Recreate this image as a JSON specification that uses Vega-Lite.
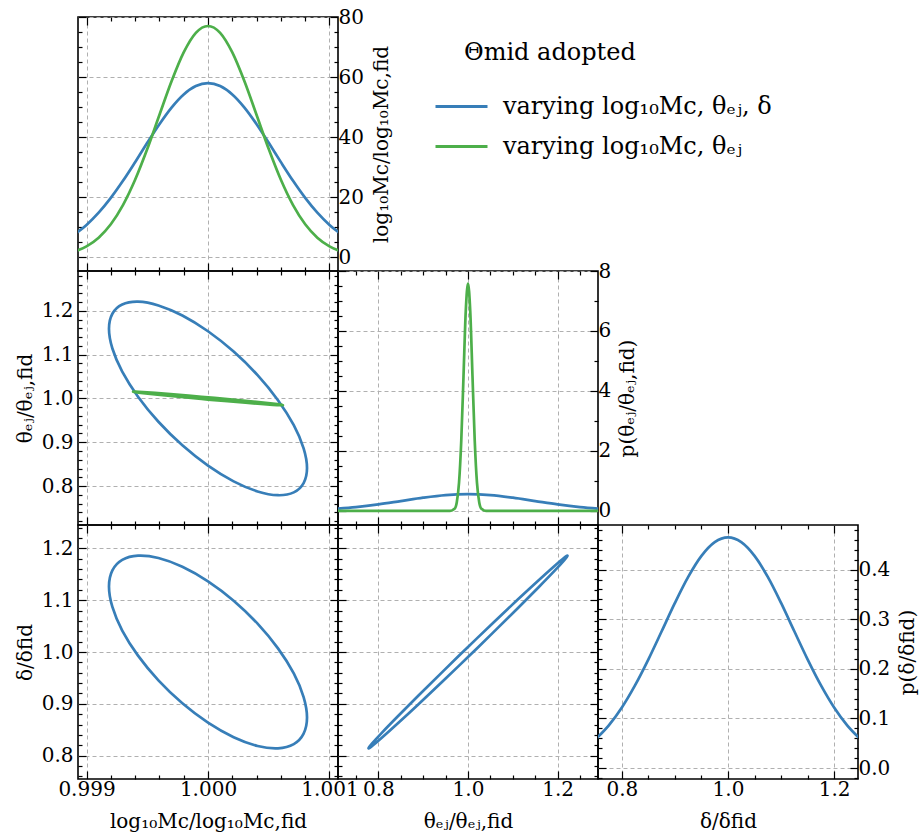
{
"$schema": "https://vega.github.io/schema/vega-lite/v6.json",
"padding": {"left": 14, "top": 6, "right": 0, "bottom": 0},
"datasets": {
"mc1": [
{"x":0.9989,"a":7.62,"b":1.96},{"x":0.999,"a":10.84,"b":3.71},{"x":0.9991,"a":14.91,"b":6.60},{"x":0.9992,"a":19.83,"b":11.05},{"x":0.9993,"a":25.50,"b":17.42},{"x":0.9994,"a":31.71,"b":25.84},{"x":0.9995,"a":38.14,"b":36.07},{"x":0.9996,"a":44.35,"b":47.39},{"x":0.9997,"a":49.88,"b":58.61},{"x":0.9998,"a":54.24,"b":68.20},{"x":0.9999,"a":57.04,"b":74.70},{"x":1.0,"a":58.0,"b":77.0},{"x":1.0001,"a":57.04,"b":74.70},{"x":1.0002,"a":54.24,"b":68.20},{"x":1.0003,"a":49.88,"b":58.61},{"x":1.0004,"a":44.35,"b":47.39},{"x":1.0005,"a":38.14,"b":36.07},{"x":1.0006,"a":31.71,"b":25.84},{"x":1.0007,"a":25.50,"b":17.42},{"x":1.0008,"a":19.83,"b":11.05},{"x":1.0009,"a":14.91,"b":6.60},{"x":1.001,"a":10.84,"b":3.71},{"x":1.0011,"a":7.62,"b":1.96}
],
"mt": [
{"i":0,"s":"a","x":1.000815,"y":0.8409},{"i":1,"s":"a","x":1.000787,"y":0.8860},{"i":2,"s":"a","x":1.000706,"y":0.9389},{"i":3,"s":"a","x":1.000576,"y":0.9960},{"i":4,"s":"a","x":1.000408,"y":1.0532},{"i":5,"s":"a","x":1.000211,"y":1.1070},{"i":6,"s":"a","x":1.0,"y":1.1534},{"i":7,"s":"a","x":0.999789,"y":1.1894},{"i":8,"s":"a","x":0.999592,"y":1.2124},{"i":9,"s":"a","x":0.999424,"y":1.2210},{"i":10,"s":"a","x":0.999294,"y":1.2145},{"i":11,"s":"a","x":0.999213,"y":1.1934},{"i":12,"s":"a","x":0.999185,"y":1.1591},{"i":13,"s":"a","x":0.999213,"y":1.1140},{"i":14,"s":"a","x":0.999294,"y":1.0611},{"i":15,"s":"a","x":0.999424,"y":1.0040},{"i":16,"s":"a","x":0.999592,"y":0.9468},{"i":17,"s":"a","x":0.999789,"y":0.8930},{"i":18,"s":"a","x":1.0,"y":0.8466},{"i":19,"s":"a","x":1.000211,"y":0.8106},{"i":20,"s":"a","x":1.000408,"y":0.7876},{"i":21,"s":"a","x":1.000576,"y":0.7790},{"i":22,"s":"a","x":1.000706,"y":0.7855},{"i":23,"s":"a","x":1.000787,"y":0.8066},
{"i":0,"s":"b","x":1.000617,"y":0.9847},{"i":1,"s":"b","x":1.000596,"y":0.9859},{"i":2,"s":"b","x":1.000534,"y":0.9880},{"i":3,"s":"b","x":1.000436,"y":0.9909},{"i":4,"s":"b","x":1.000309,"y":0.9945},{"i":5,"s":"b","x":1.000160,"y":0.9984},{"i":6,"s":"b","x":1.0,"y":1.0025},{"i":7,"s":"b","x":0.999840,"y":1.0064},{"i":8,"s":"b","x":0.999691,"y":1.0098},{"i":9,"s":"b","x":0.999564,"y":1.0126},{"i":10,"s":"b","x":0.999466,"y":1.0145},{"i":11,"s":"b","x":0.999404,"y":1.0154},{"i":12,"s":"b","x":0.999383,"y":1.0153},{"i":13,"s":"b","x":0.999404,"y":1.0141},{"i":14,"s":"b","x":0.999466,"y":1.0120},{"i":15,"s":"b","x":0.999564,"y":1.0091},{"i":16,"s":"b","x":0.999691,"y":1.0055},{"i":17,"s":"b","x":0.999840,"y":1.0016},{"i":18,"s":"b","x":1.0,"y":0.9975},{"i":19,"s":"b","x":1.000160,"y":0.9936},{"i":20,"s":"b","x":1.000309,"y":0.9902},{"i":21,"s":"b","x":1.000436,"y":0.9874},{"i":22,"s":"b","x":1.000534,"y":0.9855},{"i":23,"s":"b","x":1.000596,"y":0.9846}
],
"tt": [
{"s":"a","x":0.70,"y":0.066},{"s":"a","x":0.75,"y":0.127},{"s":"a","x":0.80,"y":0.216},{"s":"a","x":0.85,"y":0.328},{"s":"a","x":0.90,"y":0.441},{"s":"a","x":0.95,"y":0.528},{"s":"a","x":1.00,"y":0.56},{"s":"a","x":1.05,"y":0.528},{"s":"a","x":1.10,"y":0.441},{"s":"a","x":1.15,"y":0.328},{"s":"a","x":1.20,"y":0.216},{"s":"a","x":1.25,"y":0.127},{"s":"a","x":1.30,"y":0.066},
{"s":"b","x":0.70,"y":0},{"s":"b","x":0.90,"y":0},{"s":"b","x":0.95,"y":0},{"s":"b","x":0.96,"y":0},{"s":"b","x":0.97,"y":0.07},{"s":"b","x":0.975,"y":0.29},{"s":"b","x":0.98,"y":0.94},{"s":"b","x":0.985,"y":2.35},{"s":"b","x":0.99,"y":4.50},{"s":"b","x":0.995,"y":6.66},{"s":"b","x":1.0,"y":7.58},{"s":"b","x":1.005,"y":6.66},{"s":"b","x":1.01,"y":4.50},{"s":"b","x":1.015,"y":2.35},{"s":"b","x":1.02,"y":0.94},{"s":"b","x":1.025,"y":0.29},{"s":"b","x":1.03,"y":0.07},{"s":"b","x":1.04,"y":0},{"s":"b","x":1.05,"y":0},{"s":"b","x":1.10,"y":0},{"s":"b","x":1.30,"y":0}
],
"md": [
{"i":0,"s":"a","x":1.000815,"y":0.8735},{"i":1,"s":"a","x":1.000787,"y":0.9131},{"i":2,"s":"a","x":1.000706,"y":0.9587},{"i":3,"s":"a","x":1.000576,"y":1.0070},{"i":4,"s":"a","x":1.000408,"y":1.0547},{"i":5,"s":"a","x":1.000211,"y":1.0990},{"i":6,"s":"a","x":1.0,"y":1.1363},{"i":7,"s":"a","x":0.999789,"y":1.1644},{"i":8,"s":"a","x":0.999592,"y":1.1813},{"i":9,"s":"a","x":0.999424,"y":1.1858},{"i":10,"s":"a","x":0.999294,"y":1.1777},{"i":11,"s":"a","x":0.999213,"y":1.1575},{"i":12,"s":"a","x":0.999185,"y":1.1265},{"i":13,"s":"a","x":0.999213,"y":1.0869},{"i":14,"s":"a","x":0.999294,"y":1.0413},{"i":15,"s":"a","x":0.999424,"y":0.9930},{"i":16,"s":"a","x":0.999592,"y":0.9453},{"i":17,"s":"a","x":0.999789,"y":0.9010},{"i":18,"s":"a","x":1.0,"y":0.8637},{"i":19,"s":"a","x":1.000211,"y":0.8356},{"i":20,"s":"a","x":1.000408,"y":0.8187},{"i":21,"s":"a","x":1.000576,"y":0.8142},{"i":22,"s":"a","x":1.000706,"y":0.8223},{"i":23,"s":"a","x":1.000787,"y":0.8425}
],
"td": [
{"i":0,"s":"a","x":1.222,"y":1.1857},{"i":1,"s":"a","x":1.2144,"y":1.1819},{"i":2,"s":"a","x":1.1923,"y":1.1656},{"i":3,"s":"a","x":1.1570,"y":1.1381},{"i":4,"s":"a","x":1.1110,"y":1.1013},{"i":5,"s":"a","x":1.0575,"y":1.0574},{"i":6,"s":"a","x":1.0,"y":1.0097},{"i":7,"s":"a","x":0.9425,"y":0.9612},{"i":8,"s":"a","x":0.8890,"y":0.9155},{"i":9,"s":"a","x":0.8430,"y":0.8755},{"i":10,"s":"a","x":0.8077,"y":0.8440},{"i":11,"s":"a","x":0.7856,"y":0.8231},{"i":12,"s":"a","x":0.778,"y":0.8143},{"i":13,"s":"a","x":0.7856,"y":0.8181},{"i":14,"s":"a","x":0.8077,"y":0.8344},{"i":15,"s":"a","x":0.8430,"y":0.8619},{"i":16,"s":"a","x":0.8890,"y":0.8987},{"i":17,"s":"a","x":0.9425,"y":0.9426},{"i":18,"s":"a","x":1.0,"y":0.9903},{"i":19,"s":"a","x":1.0575,"y":1.0388},{"i":20,"s":"a","x":1.1110,"y":1.0845},{"i":21,"s":"a","x":1.1570,"y":1.1245},{"i":22,"s":"a","x":1.1923,"y":1.1560},{"i":23,"s":"a","x":1.2144,"y":1.1769}
],
"dd": [
{"s":"a","x":0.75,"y":0.0576},{"s":"a","x":0.775,"y":0.0856},{"s":"a","x":0.80,"y":0.1221},{"s":"a","x":0.825,"y":0.1671},{"s":"a","x":0.85,"y":0.2192},{"s":"a","x":0.875,"y":0.2758},{"s":"a","x":0.90,"y":0.3329},{"s":"a","x":0.925,"y":0.3853},{"s":"a","x":0.95,"y":0.4277},{"s":"a","x":0.975,"y":0.4554},{"s":"a","x":1.0,"y":0.465},{"s":"a","x":1.025,"y":0.4554},{"s":"a","x":1.05,"y":0.4277},{"s":"a","x":1.075,"y":0.3853},{"s":"a","x":1.10,"y":0.3329},{"s":"a","x":1.125,"y":0.2758},{"s":"a","x":1.15,"y":0.2192},{"s":"a","x":1.175,"y":0.1671},{"s":"a","x":1.20,"y":0.1221},{"s":"a","x":1.225,"y":0.0856},{"s":"a","x":1.25,"y":0.0576}
],
"empty": [{"x": 0}]
},
"spacing": 0,
"bounds": "flush",
"columns": 3,
"concat": [
{"width": 260, "height": 254, "data": {"name": "mc1"}, "transform": [{"fold": ["a", "b"], "as": ["s", "y"]}],
 "resolve": {"axis": {"x": "independent", "y": "independent"}},
 "layer": [
  {"mark": {"type": "line", "strokeWidth": 2.7, "interpolate": "monotone", "clip": true},
   "encoding": {
    "x": {"field": "x", "type": "quantitative", "scale": {"domain": [0.99893, 1.00107], "nice": false, "zero": false},
      "axis": {"orient": "bottom", "values": [0.999,0.9992,0.9994,0.9996,0.9998,1,1.0002,1.0004,1.0006,1.0008,1.001], "labels": false, "title": null,
        "tickSize": {"condition": {"test": "indexof([0.999,1,1.001],datum.value)>=0", "value": -8}, "value": -4},
        "gridOpacity": {"condition": {"test": "indexof([0.999,1,1.001],datum.value)>=0", "value": 1}, "value": 0}}},
    "y": {"field": "y", "type": "quantitative", "scale": {"domain": [-4.5, 80], "nice": false, "zero": false},
      "axis": {"orient": "right", "values": [0,5,10,15,20,25,30,35,40,45,50,55,60,65,70,75,80], "format": "d", "labelExpr": "datum.value%20==0?datum.label:''", "labelPadding": 8,
        "title": "log₁₀Mc/log₁₀Mc,fid", "titleAngle": 270, "titleBaseline": "top", "titlePadding": 8,
        "tickSize": {"condition": {"test": "datum.value%20==0", "value": -8}, "value": -4},
        "gridOpacity": {"condition": {"test": "datum.value%20==0", "value": 1}, "value": 0}}},
    "color": {"field": "s", "type": "nominal", "title": "Θmid adopted", "scale": {"domain": ["a", "b"], "range": ["#377eb8", "#4daf4a"]},
      "legend": {"labelExpr": "datum.value=='a'?'varying log₁₀Mc, θₑⱼ, δ':'varying log₁₀Mc, θₑⱼ'"}}
   }},
  {"mark": {"type": "line", "strokeOpacity": 0},
   "encoding": {
    "x": {"field": "x", "type": "quantitative", "scale": {"domain": [0.99893, 1.00107], "nice": false, "zero": false},
      "axis": {"orient": "top", "values": [0.999,0.9992,0.9994,0.9996,0.9998,1,1.0002,1.0004,1.0006,1.0008,1.001], "labels": false, "title": null, "grid": false,
        "tickSize": {"condition": {"test": "indexof([0.999,1,1.001],datum.value)>=0", "value": -8}, "value": -4}}},
    "y": {"field": "y", "type": "quantitative", "scale": {"domain": [-4.5, 80], "nice": false, "zero": false},
      "axis": {"orient": "left", "values": [0,5,10,15,20,25,30,35,40,45,50,55,60,65,70,75,80], "labels": false, "title": null, "grid": false,
        "tickSize": {"condition": {"test": "datum.value%20==0", "value": -8}, "value": -4}}}
   }}
 ]},
{"width": 260, "height": 254, "view": {"stroke": null}, "data": {"name": "empty"}, "mark": {"type": "point", "opacity": 0}, "encoding": {}},
{"width": 260, "height": 254, "view": {"stroke": null}, "data": {"name": "empty"}, "mark": {"type": "point", "opacity": 0}, "encoding": {}},
{"width": 260, "height": 254, "data": {"name": "mt"},
 "resolve": {"axis": {"x": "independent", "y": "independent"}},
 "layer": [
  {"mark": {"type": "line", "strokeWidth": 2.7, "interpolate": "cardinal-closed", "clip": true},
   "encoding": {
    "x": {"field": "x", "type": "quantitative", "scale": {"domain": [0.99893, 1.00107], "nice": false, "zero": false},
      "axis": {"orient": "bottom", "values": [0.999,0.9992,0.9994,0.9996,0.9998,1,1.0002,1.0004,1.0006,1.0008,1.001], "labels": false, "title": null,
        "tickSize": {"condition": {"test": "indexof([0.999,1,1.001],datum.value)>=0", "value": -8}, "value": -4},
        "gridOpacity": {"condition": {"test": "indexof([0.999,1,1.001],datum.value)>=0", "value": 1}, "value": 0}}},
    "y": {"field": "y", "type": "quantitative", "scale": {"domain": [0.711, 1.291], "nice": false, "zero": false},
      "axis": {"orient": "left", "values": [0.72,0.74,0.76,0.78,0.8,0.82,0.84,0.86,0.88,0.9,0.92,0.94,0.96,0.98,1,1.02,1.04,1.06,1.08,1.1,1.12,1.14,1.16,1.18,1.2,1.22,1.24,1.26,1.28], "format": ".1f",
        "labelExpr": "indexof([0.8,0.9,1,1.1,1.2],datum.value)>=0?datum.label:''", "labelPadding": 13,
        "title": "θₑⱼ/θₑⱼ,fid", "titlePadding": 6,
        "tickSize": {"condition": {"test": "indexof([0.8,0.9,1,1.1,1.2],datum.value)>=0", "value": -8}, "value": -4},
        "gridOpacity": {"condition": {"test": "indexof([0.8,0.9,1,1.1,1.2],datum.value)>=0", "value": 1}, "value": 0}}},
    "order": {"field": "i", "type": "quantitative"},
    "color": {"field": "s", "type": "nominal", "title": "Θmid adopted", "scale": {"domain": ["a", "b"], "range": ["#377eb8", "#4daf4a"]},
      "legend": {"labelExpr": "datum.value=='a'?'varying log₁₀Mc, θₑⱼ, δ':'varying log₁₀Mc, θₑⱼ'"}}
   }},
  {"mark": {"type": "line", "strokeOpacity": 0},
   "encoding": {
    "x": {"field": "x", "type": "quantitative", "scale": {"domain": [0.99893, 1.00107], "nice": false, "zero": false},
      "axis": {"orient": "top", "values": [0.999,0.9992,0.9994,0.9996,0.9998,1,1.0002,1.0004,1.0006,1.0008,1.001], "labels": false, "title": null, "grid": false,
        "tickSize": {"condition": {"test": "indexof([0.999,1,1.001],datum.value)>=0", "value": -8}, "value": -4}}},
    "y": {"field": "y", "type": "quantitative", "scale": {"domain": [0.711, 1.291], "nice": false, "zero": false},
      "axis": {"orient": "right", "values": [0.72,0.74,0.76,0.78,0.8,0.82,0.84,0.86,0.88,0.9,0.92,0.94,0.96,0.98,1,1.02,1.04,1.06,1.08,1.1,1.12,1.14,1.16,1.18,1.2,1.22,1.24,1.26,1.28], "labels": false, "title": null, "grid": false,
        "tickSize": {"condition": {"test": "indexof([0.8,0.9,1,1.1,1.2],datum.value)>=0", "value": -8}, "value": -4}}}
   }}
 ]},
{"width": 260, "height": 254, "data": {"name": "tt"},
 "resolve": {"axis": {"x": "independent", "y": "independent"}},
 "layer": [
  {"mark": {"type": "line", "strokeWidth": 2.7, "interpolate": "monotone", "clip": true},
   "encoding": {
    "x": {"field": "x", "type": "quantitative", "scale": {"domain": [0.71, 1.29], "nice": false, "zero": false},
      "axis": {"orient": "bottom", "values": [0.75,0.8,0.85,0.9,0.95,1,1.05,1.1,1.15,1.2,1.25], "labels": false, "title": null,
        "tickSize": {"condition": {"test": "indexof([0.8,1,1.2],datum.value)>=0", "value": -8}, "value": -4},
        "gridOpacity": {"condition": {"test": "indexof([0.8,1,1.2],datum.value)>=0", "value": 1}, "value": 0}}},
    "y": {"field": "y", "type": "quantitative", "scale": {"domain": [-0.47, 8.0], "nice": false, "zero": false},
      "axis": {"orient": "right", "values": [0,0.5,1,1.5,2,2.5,3,3.5,4,4.5,5,5.5,6,6.5,7,7.5,8], "format": "d", "labelExpr": "datum.value%2==0?datum.label:''", "labelPadding": 8,
        "title": "p(θₑⱼ/θₑⱼ,fid)", "titleAngle": 270, "titleBaseline": "top", "titlePadding": 7,
        "tickSize": {"condition": {"test": "datum.value%2==0", "value": -8}, "value": -4},
        "gridOpacity": {"condition": {"test": "datum.value%2==0", "value": 1}, "value": 0}}},
    "color": {"field": "s", "type": "nominal", "title": "Θmid adopted", "scale": {"domain": ["a", "b"], "range": ["#377eb8", "#4daf4a"]},
      "legend": {"labelExpr": "datum.value=='a'?'varying log₁₀Mc, θₑⱼ, δ':'varying log₁₀Mc, θₑⱼ'"}}
   }},
  {"mark": {"type": "line", "strokeOpacity": 0},
   "encoding": {
    "x": {"field": "x", "type": "quantitative", "scale": {"domain": [0.71, 1.29], "nice": false, "zero": false},
      "axis": {"orient": "top", "values": [0.75,0.8,0.85,0.9,0.95,1,1.05,1.1,1.15,1.2,1.25], "labels": false, "title": null, "grid": false,
        "tickSize": {"condition": {"test": "indexof([0.8,1,1.2],datum.value)>=0", "value": -8}, "value": -4}}},
    "y": {"field": "y", "type": "quantitative", "scale": {"domain": [-0.47, 8.0], "nice": false, "zero": false},
      "axis": {"orient": "left", "values": [0,0.5,1,1.5,2,2.5,3,3.5,4,4.5,5,5.5,6,6.5,7,7.5,8], "labels": false, "title": null, "grid": false,
        "tickSize": {"condition": {"test": "datum.value%2==0", "value": -8}, "value": -4}}}
   }}
 ]},
{"width": 260, "height": 254, "view": {"stroke": null}, "data": {"name": "empty"}, "mark": {"type": "point", "opacity": 0}, "encoding": {}},
{"width": 260, "height": 254, "data": {"name": "md"},
 "resolve": {"axis": {"x": "independent", "y": "independent"}},
 "layer": [
  {"mark": {"type": "line", "strokeWidth": 2.7, "interpolate": "cardinal-closed", "clip": true},
   "encoding": {
    "x": {"field": "x", "type": "quantitative", "scale": {"domain": [0.99893, 1.00107], "nice": false, "zero": false},
      "axis": {"orient": "bottom", "values": [0.999,0.9992,0.9994,0.9996,0.9998,1,1.0002,1.0004,1.0006,1.0008,1.001], "format": ".3f",
        "labelExpr": "indexof([0.999,1,1.001],datum.value)>=0?datum.label:''", "labelPadding": 8,
        "title": "log₁₀Mc/log₁₀Mc,fid", "titlePadding": 8,
        "tickSize": {"condition": {"test": "indexof([0.999,1,1.001],datum.value)>=0", "value": -8}, "value": -4},
        "gridOpacity": {"condition": {"test": "indexof([0.999,1,1.001],datum.value)>=0", "value": 1}, "value": 0}}},
    "y": {"field": "y", "type": "quantitative", "scale": {"domain": [0.755, 1.245], "nice": false, "zero": false},
      "axis": {"orient": "left", "values": [0.76,0.78,0.8,0.82,0.84,0.86,0.88,0.9,0.92,0.94,0.96,0.98,1,1.02,1.04,1.06,1.08,1.1,1.12,1.14,1.16,1.18,1.2,1.22,1.24], "format": ".1f",
        "labelExpr": "indexof([0.8,0.9,1,1.1,1.2],datum.value)>=0?datum.label:''", "labelPadding": 13,
        "title": "δ/δfid", "titlePadding": 6,
        "tickSize": {"condition": {"test": "indexof([0.8,0.9,1,1.1,1.2],datum.value)>=0", "value": -8}, "value": -4},
        "gridOpacity": {"condition": {"test": "indexof([0.8,0.9,1,1.1,1.2],datum.value)>=0", "value": 1}, "value": 0}}},
    "order": {"field": "i", "type": "quantitative"},
    "color": {"field": "s", "type": "nominal", "title": "Θmid adopted", "scale": {"domain": ["a", "b"], "range": ["#377eb8", "#4daf4a"]},
      "legend": {"labelExpr": "datum.value=='a'?'varying log₁₀Mc, θₑⱼ, δ':'varying log₁₀Mc, θₑⱼ'"}}
   }},
  {"mark": {"type": "line", "strokeOpacity": 0},
   "encoding": {
    "x": {"field": "x", "type": "quantitative", "scale": {"domain": [0.99893, 1.00107], "nice": false, "zero": false},
      "axis": {"orient": "top", "values": [0.999,0.9992,0.9994,0.9996,0.9998,1,1.0002,1.0004,1.0006,1.0008,1.001], "labels": false, "title": null, "grid": false,
        "tickSize": {"condition": {"test": "indexof([0.999,1,1.001],datum.value)>=0", "value": -8}, "value": -4}}},
    "y": {"field": "y", "type": "quantitative", "scale": {"domain": [0.755, 1.245], "nice": false, "zero": false},
      "axis": {"orient": "right", "values": [0.76,0.78,0.8,0.82,0.84,0.86,0.88,0.9,0.92,0.94,0.96,0.98,1,1.02,1.04,1.06,1.08,1.1,1.12,1.14,1.16,1.18,1.2,1.22,1.24], "labels": false, "title": null, "grid": false,
        "tickSize": {"condition": {"test": "indexof([0.8,0.9,1,1.1,1.2],datum.value)>=0", "value": -8}, "value": -4}}}
   }}
 ]},
{"width": 260, "height": 254, "data": {"name": "td"},
 "resolve": {"axis": {"x": "independent", "y": "independent"}},
 "layer": [
  {"mark": {"type": "line", "strokeWidth": 2.7, "interpolate": "cardinal-closed", "clip": true},
   "encoding": {
    "x": {"field": "x", "type": "quantitative", "scale": {"domain": [0.71, 1.29], "nice": false, "zero": false},
      "axis": {"orient": "bottom", "values": [0.75,0.8,0.85,0.9,0.95,1,1.05,1.1,1.15,1.2,1.25], "format": ".1f",
        "labelExpr": "indexof([0.8,1,1.2],datum.value)>=0?datum.label:''", "labelPadding": 8,
        "title": "θₑⱼ/θₑⱼ,fid", "titlePadding": 8,
        "tickSize": {"condition": {"test": "indexof([0.8,1,1.2],datum.value)>=0", "value": -8}, "value": -4},
        "gridOpacity": {"condition": {"test": "indexof([0.8,1,1.2],datum.value)>=0", "value": 1}, "value": 0}}},
    "y": {"field": "y", "type": "quantitative", "scale": {"domain": [0.755, 1.245], "nice": false, "zero": false},
      "axis": {"orient": "left", "values": [0.76,0.78,0.8,0.82,0.84,0.86,0.88,0.9,0.92,0.94,0.96,0.98,1,1.02,1.04,1.06,1.08,1.1,1.12,1.14,1.16,1.18,1.2,1.22,1.24], "labels": false, "title": null,
        "tickSize": {"condition": {"test": "indexof([0.8,0.9,1,1.1,1.2],datum.value)>=0", "value": -8}, "value": -4},
        "gridOpacity": {"condition": {"test": "indexof([0.8,0.9,1,1.1,1.2],datum.value)>=0", "value": 1}, "value": 0}}},
    "order": {"field": "i", "type": "quantitative"},
    "color": {"field": "s", "type": "nominal", "title": "Θmid adopted", "scale": {"domain": ["a", "b"], "range": ["#377eb8", "#4daf4a"]},
      "legend": {"labelExpr": "datum.value=='a'?'varying log₁₀Mc, θₑⱼ, δ':'varying log₁₀Mc, θₑⱼ'"}}
   }},
  {"mark": {"type": "line", "strokeOpacity": 0},
   "encoding": {
    "x": {"field": "x", "type": "quantitative", "scale": {"domain": [0.71, 1.29], "nice": false, "zero": false},
      "axis": {"orient": "top", "values": [0.75,0.8,0.85,0.9,0.95,1,1.05,1.1,1.15,1.2,1.25], "labels": false, "title": null, "grid": false,
        "tickSize": {"condition": {"test": "indexof([0.8,1,1.2],datum.value)>=0", "value": -8}, "value": -4}}},
    "y": {"field": "y", "type": "quantitative", "scale": {"domain": [0.755, 1.245], "nice": false, "zero": false},
      "axis": {"orient": "right", "values": [0.76,0.78,0.8,0.82,0.84,0.86,0.88,0.9,0.92,0.94,0.96,0.98,1,1.02,1.04,1.06,1.08,1.1,1.12,1.14,1.16,1.18,1.2,1.22,1.24], "labels": false, "title": null, "grid": false,
        "tickSize": {"condition": {"test": "indexof([0.8,0.9,1,1.1,1.2],datum.value)>=0", "value": -8}, "value": -4}}}
   }}
 ]},
{"width": 260, "height": 254, "data": {"name": "dd"},
 "resolve": {"axis": {"x": "independent", "y": "independent"}},
 "layer": [
  {"mark": {"type": "line", "strokeWidth": 2.7, "interpolate": "monotone", "clip": true},
   "encoding": {
    "x": {"field": "x", "type": "quantitative", "scale": {"domain": [0.755, 1.245], "nice": false, "zero": false},
      "axis": {"orient": "bottom", "values": [0.8,0.85,0.9,0.95,1,1.05,1.1,1.15,1.2], "format": ".1f",
        "labelExpr": "indexof([0.8,1,1.2],datum.value)>=0?datum.label:''", "labelPadding": 8,
        "title": "δ/δfid", "titlePadding": 8,
        "tickSize": {"condition": {"test": "indexof([0.8,1,1.2],datum.value)>=0", "value": -8}, "value": -4},
        "gridOpacity": {"condition": {"test": "indexof([0.8,1,1.2],datum.value)>=0", "value": 1}, "value": 0}}},
    "y": {"field": "y", "type": "quantitative", "scale": {"domain": [-0.022, 0.49], "nice": false, "zero": false},
      "axis": {"orient": "right", "values": [-0.02,0,0.02,0.04,0.06,0.08,0.1,0.12,0.14,0.16,0.18,0.2,0.22,0.24,0.26,0.28,0.3,0.32,0.34,0.36,0.38,0.4,0.42,0.44,0.46,0.48], "format": ".1f",
        "labelExpr": "indexof([0,0.1,0.2,0.3,0.4],datum.value)>=0?datum.label:''", "labelPadding": 8,
        "title": "p(δ/δfid)", "titleAngle": 270, "titleBaseline": "top", "titlePadding": 8,
        "tickSize": {"condition": {"test": "indexof([0,0.1,0.2,0.3,0.4],datum.value)>=0", "value": -8}, "value": -4},
        "gridOpacity": {"condition": {"test": "indexof([0,0.1,0.2,0.3,0.4],datum.value)>=0", "value": 1}, "value": 0}}},
    "color": {"field": "s", "type": "nominal", "title": "Θmid adopted", "scale": {"domain": ["a", "b"], "range": ["#377eb8", "#4daf4a"]},
      "legend": {"labelExpr": "datum.value=='a'?'varying log₁₀Mc, θₑⱼ, δ':'varying log₁₀Mc, θₑⱼ'"}}
   }},
  {"mark": {"type": "line", "strokeOpacity": 0},
   "encoding": {
    "x": {"field": "x", "type": "quantitative", "scale": {"domain": [0.755, 1.245], "nice": false, "zero": false},
      "axis": {"orient": "top", "values": [0.8,0.85,0.9,0.95,1,1.05,1.1,1.15,1.2], "labels": false, "title": null, "grid": false,
        "tickSize": {"condition": {"test": "indexof([0.8,1,1.2],datum.value)>=0", "value": -8}, "value": -4}}},
    "y": {"field": "y", "type": "quantitative", "scale": {"domain": [-0.022, 0.49], "nice": false, "zero": false},
      "axis": {"orient": "left", "values": [-0.02,0,0.02,0.04,0.06,0.08,0.1,0.12,0.14,0.16,0.18,0.2,0.22,0.24,0.26,0.28,0.3,0.32,0.34,0.36,0.38,0.4,0.42,0.44,0.46,0.48], "labels": false, "title": null, "grid": false,
        "tickSize": {"condition": {"test": "indexof([0,0.1,0.2,0.3,0.4],datum.value)>=0", "value": -8}, "value": -4}}}
   }}
 ]}
],
"config": {
 "font": "DejaVu Serif",
 "view": {"stroke": "black", "strokeWidth": 1.6},
 "axis": {"domain": false, "labelFont": "DejaVu Serif", "labelFontSize": 20, "labelColor": "black", "titleFont": "DejaVu Serif", "titleFontSize": 20, "titleFontWeight": "normal", "titleColor": "black", "titleLimit": 400, "tickColor": "black", "tickWidth": 1.2, "gridColor": "#b0b0b0", "gridDash": [4, 3], "gridWidth": 1, "labelFlush": false, "labelOverlap": false, "labelBound": false},
 "legend": {"orient": "none", "legendX": 386, "legendY": 24, "padding": 0, "titleFont": "DejaVu Serif", "titleFontSize": 24, "titleFontWeight": "normal", "titleColor": "black", "titlePadding": 14, "titleLimit": 400, "labelFont": "DejaVu Serif", "labelFontSize": 24, "labelColor": "black", "labelLimit": 500, "symbolType": "stroke", "symbolSize": 2704, "symbolStrokeWidth": 3, "symbolOffset": -30, "labelOffset": 14, "rowPadding": 0}
}
}
